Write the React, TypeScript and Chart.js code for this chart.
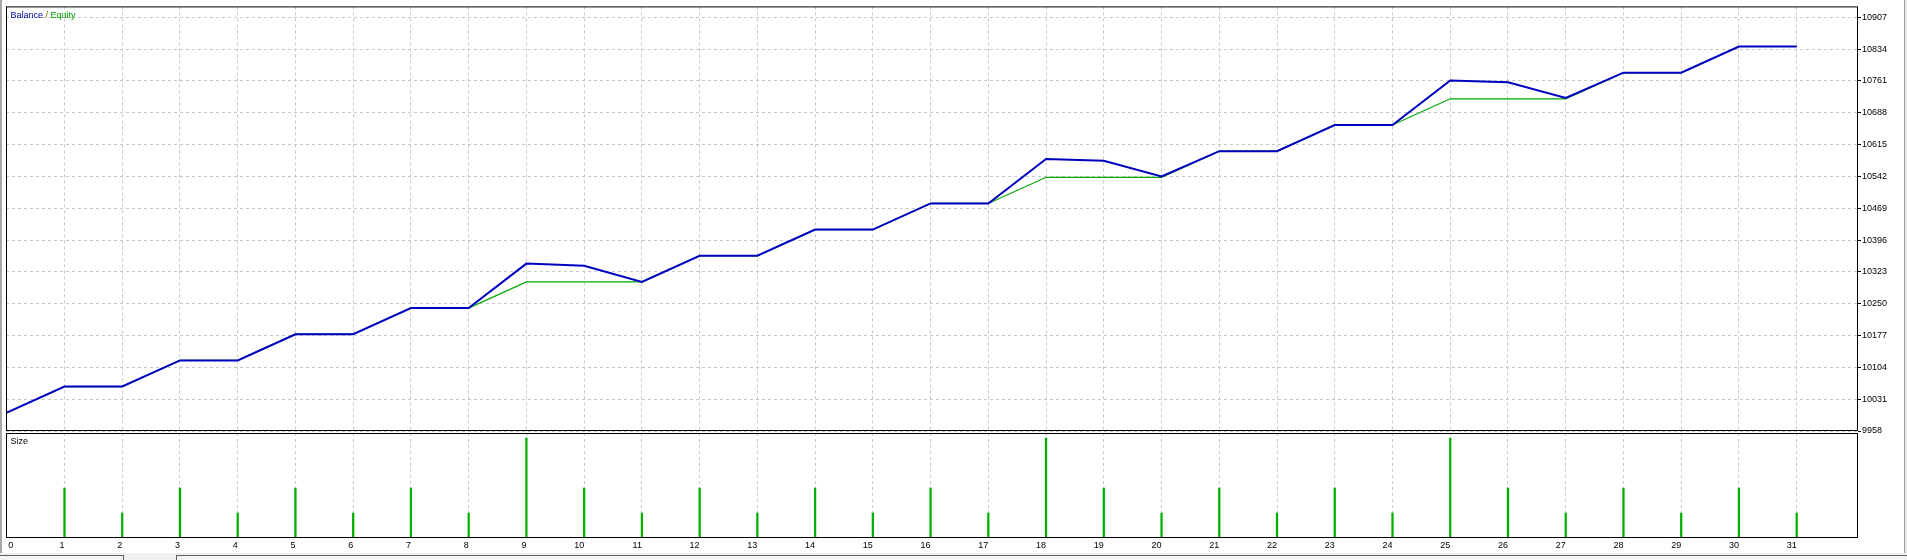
import React, { useEffect, useRef } from 'react';
import { Chart, registerables } from 'chart.js';

Chart.register(...registerables);

// ---- data ----
const tradeNumbers = [0, 1, 2, 3, 4, 5, 6, 7, 8, 9, 10, 11, 12, 13, 14, 15, 16, 17, 18, 19, 20, 21, 22, 23, 24, 25, 26, 27, 28, 29, 30, 31];
const balanceValues = [10000, 10060, 10060, 10120, 10120, 10180, 10180, 10240, 10240, 10342, 10337, 10300, 10360, 10360, 10420, 10420, 10480, 10480, 10582, 10578, 10542, 10600, 10600, 10660, 10660, 10762, 10758, 10722, 10780, 10780, 10840, 10840];
const equityValues = [10000, 10060, 10060, 10120, 10120, 10180, 10180, 10240, 10240, 10300, 10300, 10300, 10360, 10360, 10420, 10420, 10480, 10480, 10540, 10540, 10540, 10600, 10600, 10660, 10660, 10720, 10720, 10720, 10780, 10780, 10840, 10840];
const sizeValues = [0, 0.2, 0.1, 0.2, 0.1, 0.2, 0.1, 0.2, 0.1, 0.4, 0.2, 0.1, 0.2, 0.1, 0.2, 0.1, 0.2, 0.1, 0.4, 0.2, 0.1, 0.2, 0.1, 0.2, 0.1, 0.4, 0.2, 0.1, 0.2, 0.1, 0.2, 0.1];
const balanceTickValues = [9958, 10031, 10104, 10177, 10250, 10323, 10396, 10469, 10542, 10615, 10688, 10761, 10834, 10907];
const xTickLabels = tradeNumbers.map((n) => String(n));

const BLUE = '#0000c0';
const GREEN = '#00a800';
const BAR_GREEN = '#00b000';
const GRID = '#c8c8c8';
const FONT_FAMILY = 'Tahoma, "Liberation Sans", Arial, sans-serif';
const X_MIN = -0.013;
const X_MAX = 32.062;

const framePlugin = (label: (chart: any, ctx: CanvasRenderingContext2D, left: number, top: number) => void) => ({
  id: 'frame',
  afterDraw(chart: any) {
    const { ctx, chartArea } = chart;
    ctx.save();
    ctx.strokeStyle = '#000';
    ctx.lineWidth = 1;
    ctx.strokeRect(chartArea.left + 0.5, chartArea.top + 0.5, chartArea.right - chartArea.left - 1, chartArea.bottom - chartArea.top - 1);
    label(chart, ctx, chartArea.left, chartArea.top);
    ctx.restore();
  },
});

export default function App() {
  const mainRef = useRef<HTMLCanvasElement>(null);
  const sizeRef = useRef<HTMLCanvasElement>(null);

  useEffect(() => {
    document.body.style.margin = '0';
    const mainChart = new Chart(mainRef.current as HTMLCanvasElement, {
      type: 'line',
      data: {
        datasets: [
          {
            label: 'Equity',
            data: tradeNumbers.map((t, i) => ({ x: t, y: equityValues[i] })),
            borderColor: GREEN,
            borderWidth: 1.2,
            pointRadius: 0,
            tension: 0,
            order: 2,
          },
          {
            label: 'Balance',
            data: tradeNumbers.map((t, i) => ({ x: t, y: balanceValues[i] })),
            borderColor: BLUE,
            borderWidth: 2,
            pointRadius: 0,
            tension: 0,
            order: 1,
          },
        ],
      },
      options: {
        animation: false,
        responsive: false,
        maintainAspectRatio: false,
        layout: { padding: { left: 6, top: 4, right: 0, bottom: 9 } },
        plugins: { legend: { display: false }, tooltip: { enabled: false } },
        scales: {
          x: {
            type: 'linear',
            min: X_MIN,
            max: X_MAX,
            afterBuildTicks: (s: any) => {
              s.ticks = tradeNumbers.map((v) => ({ value: v }));
            },
            afterFit: (s: any) => {
              s.height = 0;
            },
            ticks: { display: false },
            grid: { color: GRID, drawTicks: false },
            border: { display: false, dash: [3, 3] },
          },
          y: {
            position: 'right',
            min: 9958,
            max: 10932,
            afterBuildTicks: (s: any) => {
              s.ticks = balanceTickValues.map((v) => ({ value: v }));
            },
            afterFit: (s: any) => {
              s.width = 49;
            },
            ticks: {
              font: { family: FONT_FAMILY, size: 9 },
              color: '#000',
              padding: 1,
              callback: (v: any) => String(v),
            },
            grid: { color: GRID, drawTicks: true, tickLength: 3, tickColor: '#000', tickBorderDash: [] },
            border: { display: false, dash: [3, 3] },
          },
        },
      },
      plugins: [
        framePlugin((chart, ctx, left, top) => {
          ctx.font = `9px ${FONT_FAMILY}`;
          ctx.textBaseline = 'middle';
          ctx.textAlign = 'left';
          let x = left + 4.5;
          const y = top + 9;
          ctx.fillStyle = '#0000a0';
          ctx.fillText('Balance', x, y);
          x += ctx.measureText('Balance ').width;
          ctx.fillStyle = '#806000';
          ctx.fillText('/', x, y);
          x += ctx.measureText('/ ').width;
          ctx.fillStyle = '#00a000';
          ctx.fillText('Equity', x, y);
        }),
      ],
    } as any);

    const sizeChart = new Chart(sizeRef.current as HTMLCanvasElement, {
      type: 'bar',
      data: {
        datasets: [
          {
            label: 'Size',
            data: tradeNumbers.map((t, i) => ({ x: t, y: sizeValues[i] })),
            backgroundColor: BAR_GREEN,
            borderWidth: 0,
            barThickness: 1.6,
          },
        ],
      },
      options: {
        animation: false,
        responsive: false,
        maintainAspectRatio: false,
        layout: { padding: { left: 6, top: 5, right: 49, bottom: 0 } },
        plugins: { legend: { display: false }, tooltip: { enabled: false } },
        scales: {
          x: {
            type: 'linear',
            min: X_MIN,
            max: X_MAX,
            offset: false,
            afterBuildTicks: (s: any) => {
              s.ticks = tradeNumbers.map((v) => ({ value: v }));
            },
            afterFit: (s: any) => {
              s.height = 22;
            },
            ticks: {
              font: { family: FONT_FAMILY, size: 9 },
              color: '#000',
              padding: 2,
              align: 'end',
              autoSkip: false,
              maxRotation: 0,
              minRotation: 0,
              // the first label is placed inside the frame by the plugin below
              callback: (v: any) => (Number(v) === tradeNumbers[0] ? '' : xTickLabels[tradeNumbers.indexOf(Number(v))] ?? ''),
            },
            grid: { color: GRID, drawTicks: false, offset: false },
            border: { display: false, dash: [3, 3] },
          },
          y: {
            display: false,
            min: 0,
            max: 0.42,
          },
        },
      },
      plugins: [
        framePlugin((chart, ctx, left, top) => {
          ctx.font = `9px ${FONT_FAMILY}`;
          ctx.textBaseline = 'middle';
          ctx.textAlign = 'left';
          ctx.fillStyle = '#000';
          ctx.fillText('Size', left + 4.5, top + 9);
          const xs = chart.scales.x;
          const px = Math.max(xs.getPixelForValue(tradeNumbers[0]), chart.chartArea.left) + 1.5;
          ctx.fillText(xTickLabels[0], px, chart.chartArea.bottom + 8);
        }),
      ],
    } as any);

    return () => {
      mainChart.destroy();
      sizeChart.destroy();
    };
  }, []);

  return (
    <div style={{ position: 'relative', width: 1907, height: 560, background: '#fff', overflow: 'hidden' }}>
      <div style={{ position: 'absolute', left: 0, top: 0, width: 2, height: 553, background: '#a8a8a8' }} />
      <div style={{ position: 'absolute', left: 1904, top: 0, width: 3, height: 560, background: '#e8e8e8', borderLeft: '1px solid #a0a0a0' }} />
      <div style={{ position: 'absolute', left: 0, top: 553, width: 1907, height: 7, background: '#f0f0f0' }} />
      <div style={{ position: 'absolute', left: 0, top: 555, width: 123, height: 6, borderTop: '1px solid #606060', borderRight: '1px solid #606060', background: '#f4f4f4' }} />
      <div style={{ position: 'absolute', left: 176, top: 555, width: 1731, height: 6, borderTop: '1px solid #606060', borderLeft: '1px solid #606060', background: '#f4f4f4' }} />
      <canvas
        ref={mainRef}
        width={1907}
        height={440}
        style={{ position: 'absolute', left: 0, top: 0, width: 1907, height: 440 }}
      />
      <canvas
        ref={sizeRef}
        width={1907}
        height={132}
        style={{ position: 'absolute', left: 0, top: 428, width: 1907, height: 132 }}
      />
    </div>
  );
}
